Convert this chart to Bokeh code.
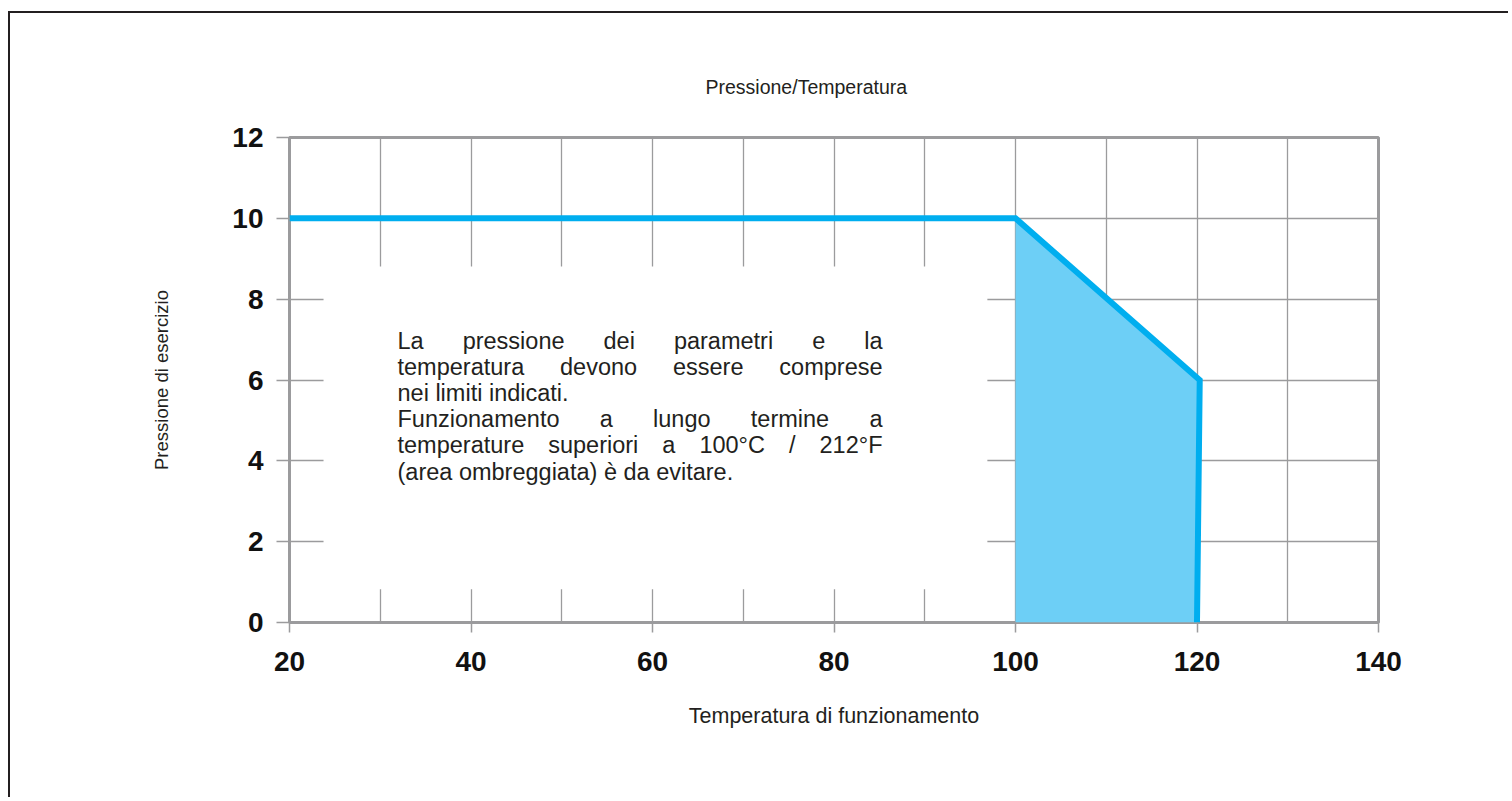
from bokeh.plotting import figure
from bokeh.models import Range1d, FixedTicker, Label
from bokeh.embed import file_html
from bokeh.resources import INLINE

# ---- data ----
temperatura = [20, 100, 120.3, 120]
pressione = [10, 10, 6, 0]
area_t = [100, 100, 120.3, 120]
area_p = [0, 10, 6, 0]
x_ticks = [20, 40, 60, 80, 100, 120, 140]
x_grid = [20, 30, 40, 50, 60, 70, 80, 90, 100, 110, 120, 130, 140]
y_ticks = [0, 2, 4, 6, 8, 10, 12]
note_lines = [
    "La pressione dei parametri e la",
    "temperatura devono essere comprese",
    "nei limiti indicati.",
    "Funzionamento a lungo termine a",
    "temperature superiori a 100°C / 212°F",
    "(area ombreggiata) è da evitare.",
]
note_justified = [True, True, False, True, True, False]

FONT = "Liberation Sans"
GRAY = "#9b9b9d"
OX, OY = 10, 13  # page position of the canvas (after margin + border)
FRAME_L, FRAME_R, FRAME_T, FRAME_B = 289 - OX, 1378 - OX, 137 - OY, 622 - OY
W, H = 1500, 786

p = figure(width=W, height=H, output_backend="svg", toolbar_location=None,
           x_range=Range1d(20, 140), y_range=Range1d(0, 12),
           min_border_left=FRAME_L, min_border_right=W - FRAME_R,
           min_border_top=FRAME_T, min_border_bottom=H - FRAME_B)
p.styles = {"border-left": "2px solid #231f20", "border-top": "2px solid #231f20",
            "margin-left": "8px", "margin-top": "11px"}
p.background_fill_color = "white"
p.border_fill_color = "white"
p.outline_line_color = GRAY
p.outline_line_width = 3

# title
p.title.text = "Pressione/Temperatura"
p.title.text_font = FONT
p.title.text_font_style = "normal"
p.title.text_font_size = "19.5px"
p.title.text_color = "#231f20"
p.title.align = "left"
p.title.offset = 416
p.title.standoff = 80

# grids
p.xgrid.ticker = FixedTicker(ticks=x_grid)
p.ygrid.ticker = FixedTicker(ticks=y_ticks)
for g in (p.xgrid, p.ygrid):
    g.grid_line_color = GRAY
    g.grid_line_width = 1.3

# axes
p.xaxis.ticker = FixedTicker(ticks=x_ticks)
p.yaxis.ticker = FixedTicker(ticks=y_ticks)
for ax in (p.xaxis, p.yaxis):
    ax.axis_line_color = None
    ax.major_tick_line_color = GRAY
    ax.major_tick_line_width = 1.5
    ax.major_tick_in = 0
    ax.minor_tick_line_color = None
    ax.major_label_text_font = FONT
    ax.major_label_text_font_style = "bold"
    ax.major_label_text_font_size = "28px"
    ax.major_label_text_color = "#111111"
    ax.axis_label_text_font = FONT
    ax.axis_label_text_font_style = "normal"
    ax.axis_label_text_color = "#231f20"
p.xaxis.major_tick_out = 10
p.yaxis.major_tick_out = 13
p.xaxis.major_label_standoff = 19
p.yaxis.major_label_standoff = 13
p.xaxis.axis_label = "Temperatura di funzionamento"
p.yaxis.axis_label = "Pressione di esercizio"
p.xaxis.axis_label_text_font_size = "21.5px"
p.yaxis.axis_label_text_font_size = "18.5px"
p.xaxis.axis_label_standoff = 30
p.yaxis.axis_label_standoff = 57

# white box behind the note (hides grid lines)
p.quad(left=23.75, right=96.9, bottom=0.82, top=8.81, fill_color="white", line_color=None)

# shaded area and limit line
p.patch(area_t, area_p, fill_color="#6dcff6", line_color=None)
p.line(temperatura, pressione, line_color="#00aeef", line_width=6, line_join="miter")

# note text (justified like the original)
AW = {' ': 278, 'a': 556, 'b': 556, 'c': 500, 'd': 556, 'e': 556, 'f': 278, 'g': 556,
      'h': 556, 'i': 222, 'j': 222, 'k': 500, 'l': 222, 'm': 833, 'n': 556, 'o': 556,
      'p': 556, 'q': 556, 'r': 333, 's': 500, 't': 278, 'u': 556, 'v': 500, 'w': 722,
      'x': 500, 'y': 500, 'z': 500, 'L': 556, 'F': 611, 'C': 722, '0': 556, '1': 556,
      '2': 556, '°': 400, '/': 278, '(': 333, ')': 333, '.': 278, 'è': 556}
FS = 23.5
px_per_x = (FRAME_R - FRAME_L) / 120.0
px_per_y = (FRAME_B - FRAME_T) / 12.0
left_px, right_px = 397 - 289, 882 - 289          # relative to frame left
base0_px, step_px = 340 - 137, 26.2               # relative to frame top


def tw(s):
    return sum(AW.get(c, 556) for c in s) * FS / 1000.0


for i, (line, just) in enumerate(zip(note_lines, note_justified)):
    ydata = 12 - (base0_px + i * step_px) / px_per_y
    if just:
        words = line.split(" ")
        widths = [tw(w) for w in words]
        gap = ((right_px - left_px) - sum(widths)) / (len(words) - 1)
        xpx = left_px
        for w, wd in zip(words, widths):
            p.add_layout(Label(x=20 + xpx / px_per_x, y=ydata, text=w, text_font=FONT,
                               text_font_size=f"{FS}px", text_color="#231f20",
                               text_align="left", text_baseline="alphabetic"))
            xpx += wd + gap
    else:
        p.add_layout(Label(x=20 + left_px / px_per_x, y=ydata, text=line, text_font=FONT,
                           text_font_size=f"{FS}px", text_color="#231f20",
                           text_align="left", text_baseline="alphabetic"))

open("out.html", "w").write(file_html(p, INLINE))
